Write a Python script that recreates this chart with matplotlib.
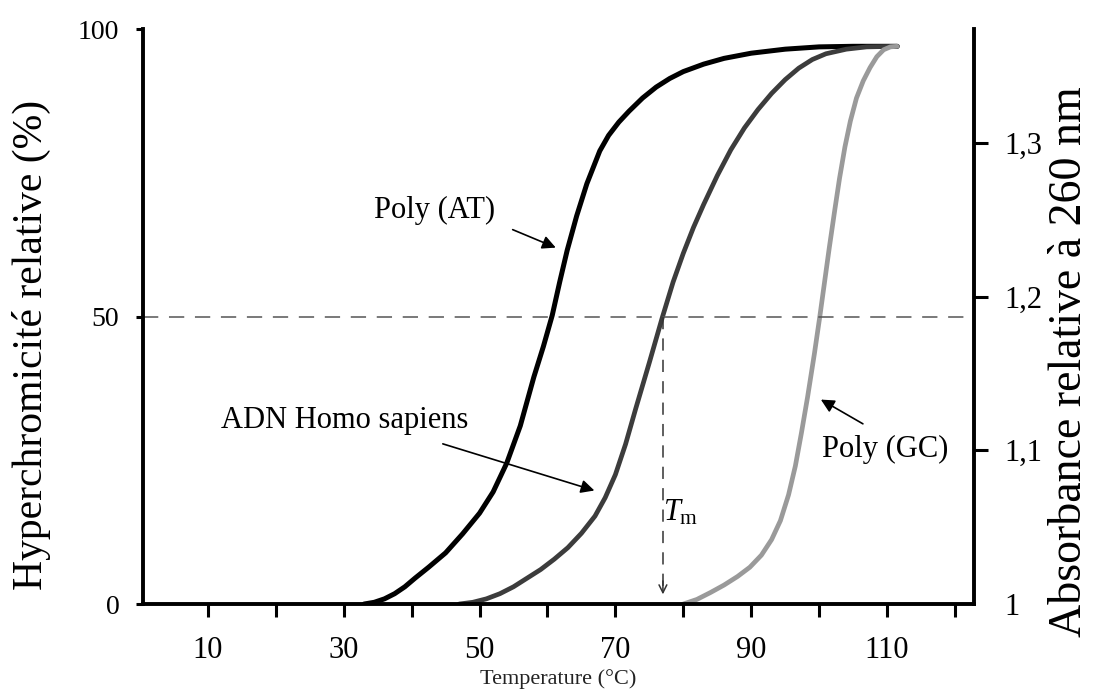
import matplotlib
matplotlib.use("Agg")
import matplotlib.pyplot as plt

plt.rcParams["font.family"] = ["Liberation Serif", "DejaVu Serif"]
plt.rcParams["mathtext.fontset"] = "custom"
plt.rcParams["mathtext.rm"] = "Liberation Serif"
plt.rcParams["mathtext.it"] = "Liberation Serif:italic"

# melting curves (temperature in degC, hyperchromicity in %)
at_temp = [33, 34.5, 36, 37.5, 39, 40.5, 42.5, 45, 47.5, 50, 52, 54, 56, 58, 59.4, 60.7,
           61.8, 62.9, 64.3, 65.8, 67.7, 69, 70.5, 72, 74, 76, 78, 80, 83, 86, 90, 95, 100, 105, 111.5]
at_hyp = [0, 0.3, 0.9, 1.8, 3.0, 4.5, 6.4, 8.9, 12.2, 15.8, 19.5, 24.5, 31, 39.5, 44.8, 50.2,
          56, 61.5, 67.5, 73.1, 78.8, 81.5, 83.8, 85.7, 88, 89.9, 91.4, 92.6, 93.9, 94.9, 95.8, 96.5, 96.9, 97, 97]

human_temp = [47, 49, 51, 53, 55, 57, 59, 61, 63, 65, 67, 68.5, 70, 71.5, 73, 75, 76.9, 78.5, 80,
              81.5, 83, 85, 87, 89, 91, 93, 95, 97, 99, 101, 104, 107, 111.5]
human_hyp = [0, 0.3, 0.9, 1.8, 3, 4.5, 6, 7.8, 9.8, 12.3, 15.3, 18.5, 22.5, 27.8, 34, 42, 49.8, 56, 61,
             65.5, 69.5, 74.5, 79, 82.8, 86, 88.8, 91.2, 93.2, 94.7, 95.7, 96.5, 96.9, 97]

gc_temp = [80, 82, 84, 86, 88, 89.8, 91.5, 93, 94.3, 95.5, 96.5, 97.4, 98.3, 99.3, 100.1, 100.8, 101.5,
           102.3, 103, 103.8, 104.6, 105.5, 106.5, 107.5, 108.5, 109.5, 110.5, 111.5]
gc_hyp = [0, 0.8, 2, 3.3, 4.8, 6.4, 8.5, 11.2, 14.5, 19, 24, 29.8, 36, 43.5, 50, 56, 62,
          68.5, 74, 79.5, 84, 88, 91, 93.3, 95.2, 96.4, 96.9, 97]

tm_human = 77
x_ticks = list(range(10, 121, 10))
x_tick_labels = ["10", "", "30", "", "50", "", "70", "", "90", "", "110", ""]
left_ticks = [0, 50, 100]
right_ticks = [1.0, 1.1, 1.2, 1.3]
right_tick_labels = ["1", "1,1", "1,2", "1,3"]

fig = plt.figure(figsize=(10.93, 7), dpi=100)
ax = fig.add_axes([0.1308, 0.1371, 0.7603, 0.8214])

ax.plot(at_temp, at_hyp, color="black", lw=3.6, solid_capstyle="round", solid_joinstyle="round")
ax.plot(human_temp, human_hyp, color="#3c3c3c", lw=3.4, solid_capstyle="round", solid_joinstyle="round")
ax.plot(gc_temp, gc_hyp, color="#9a9a9a", lw=3.4, solid_capstyle="round", solid_joinstyle="round")

# 50 % line and Tm marker
ax.axhline(50, color="#555555", lw=1.1, dashes=(10, 7))
ax.plot([tm_human, tm_human], [50, 3], color="#333333", lw=1.1, dashes=(8, 6))
ax.annotate("", xy=(tm_human, 1.2), xytext=(tm_human, 4.5),
            arrowprops=dict(arrowstyle="->", color="#333333", lw=1.1, mutation_scale=14))
ax.text(tm_human + 2.6, 15.8, r"$T_{\mathrm{m}}$", fontsize=22, ha="center", va="center")

arrow = dict(arrowstyle="-|>", color="black", lw=1.2, mutation_scale=20)
ax.text(43.4, 68.5, "Poly (AT)", fontsize=22, ha="center", va="center")
ax.annotate("", xy=(61.6, 61.8), xytext=(54.5, 65.3), arrowprops=arrow)
ax.text(30.2, 32.0, "ADN Homo sapiens", fontsize=22, ha="center", va="center")
ax.annotate("", xy=(67.3, 19.6), xytext=(44.2, 28.0), arrowprops=arrow)
ax.text(109.7, 26.8, "Poly (GC)", fontsize=22, ha="center", va="center")
ax.annotate("", xy=(99.9, 35.8), xytext=(106.8, 31.1), arrowprops=arrow)

ax.set_xlim(0.44, 122.8)
ax.set_ylim(0, 100)
ax.spines["top"].set_visible(False)
ax.spines["right"].set_visible(False)
for s in ("left", "bottom"):
    ax.spines[s].set_linewidth(2.8)

ax.set_xticks(x_ticks)
ax.set_xticklabels(x_tick_labels)
ax.tick_params(axis="x", direction="out", length=9, width=2.2, pad=14, labelsize=22)
ax.set_yticks(left_ticks)
ax.set_yticklabels([str(v) for v in left_ticks])
ax.tick_params(axis="y", direction="out", length=5, width=2.2, pad=12, labelsize=20)
ax.set_xlabel("Temperature (°C)", fontsize=16, color="#222222", labelpad=3)

ax2 = ax.twinx()
ax2.set_ylim(1.0, 1.374)
for s in ("top", "left", "bottom"):
    ax2.spines[s].set_visible(False)
ax2.spines["right"].set_linewidth(2.8)
ax2.set_yticks(right_ticks)
ax2.set_yticklabels(right_tick_labels)
ax2.tick_params(axis="y", direction="out", length=10, width=2.2, pad=12, labelsize=22)
ax2.yaxis.get_major_ticks()[0].tick2line.set_visible(False)

fig.text(0.029, 0.507, "Hyperchromicité relative (%)", rotation=90, fontsize=30,
         ha="center", va="center")
fig.text(0.979, 0.483, "Absorbance relative à 260 nm", rotation=90, fontsize=33,
         ha="center", va="center")

fig.savefig("out.png", dpi=100)
